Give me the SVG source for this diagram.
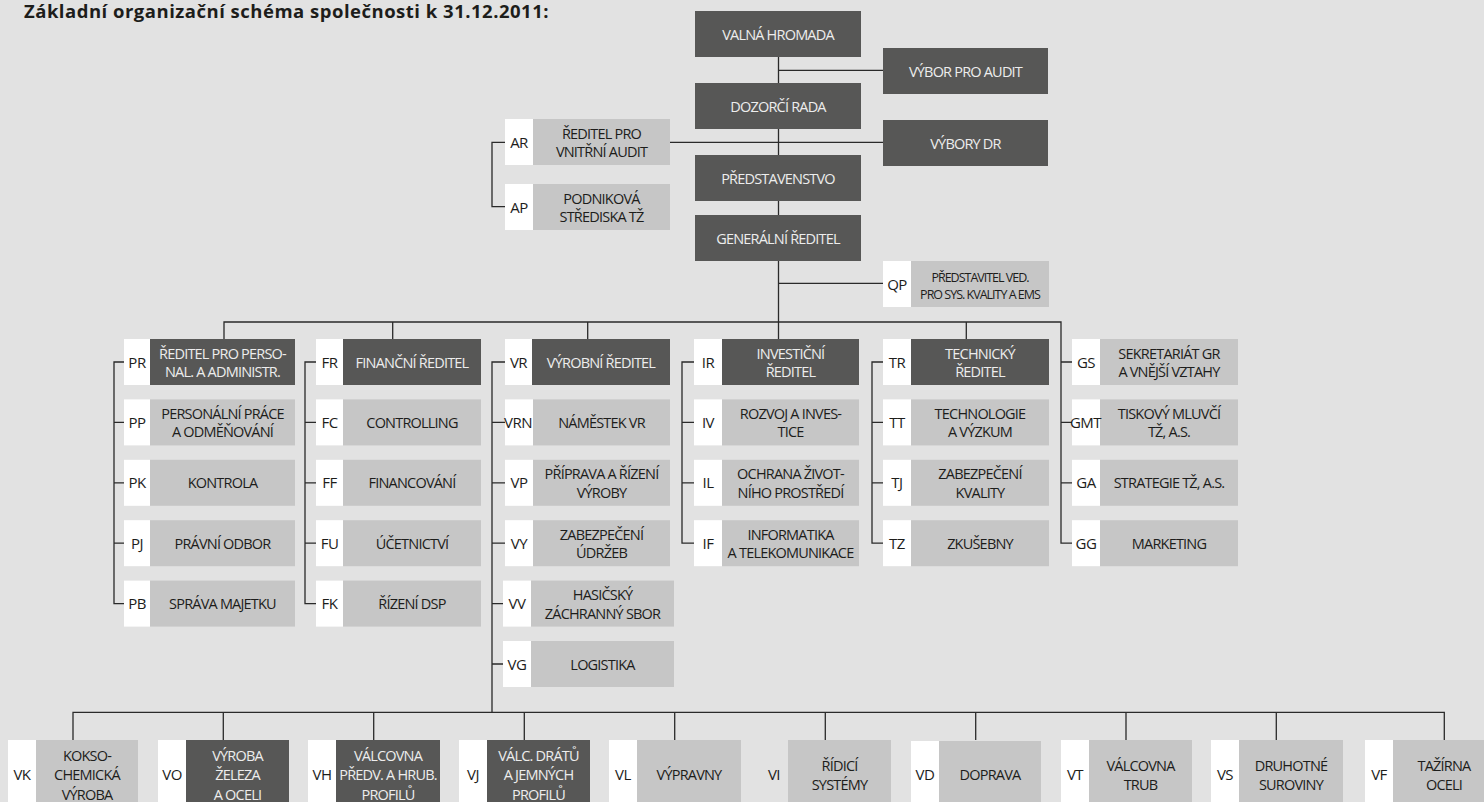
<svg xmlns="http://www.w3.org/2000/svg" width="1484" height="802" viewBox="0 0 1484 802">
<style>
.bg{fill:#e2e2e2}
.dk{fill:#575756}
.lt{fill:#c6c6c6}
.wh{fill:#ffffff}
.t{font-family:"Open Sans","Noto Sans",sans-serif;font-size:14.5px;letter-spacing:-0.8px;text-anchor:middle;fill:#1d1d1b}
.tl{fill:#ededed}
.c{font-size:15px;letter-spacing:-0.5px}
.q{font-size:12.5px;letter-spacing:-1px}
.ttl{font-family:"Open Sans","Noto Sans",sans-serif;font-size:18.5px;letter-spacing:0.5px;font-weight:bold;fill:#1d1d1b}
.ln{fill:none;stroke:#2a2a2a;stroke-width:1.3}
</style>
<rect class="bg" x="0" y="0" width="1484" height="802"/>
<text class="ttl" x="24" y="18">Základní organizační schéma společnosti k 31.12.2011:</text>

<g id="connectors" class="ln">
<path d="M778.5 56V339"/>
<path d="M778.5 70.3H883"/>
<path d="M670 142.3H883"/>
<path d="M778.5 283.3H883"/>
<path d="M505 142.3H492V206.7H505"/>
<path d="M224 339V322H1061V543.2H1072M1061 362H1072M1061 422.4H1072M1061 482.8H1072"/>
<path d="M392.7 322V339M587.7 322V339M966.3 322V339"/>
<path d="M124 362H114V603.6H124M114 422.4H124M114 482.8H124M114 543.2H124"/>
<path d="M316 362H305V603.6H316M305 422.4H316M305 482.8H316M305 543.2H316"/>
<path d="M505 362H492V712.3M492 422.4H505M492 482.8H505M492 543.2H505M492 603.6H503M492 664H503"/>
<path d="M694 362H682V543.2H694M682 422.4H694M682 482.8H694"/>
<path d="M883 362H872V543.2H883M872 422.4H883M872 482.8H883"/>
<path d="M73 740V712.3H1444.3V740M223.3 712.3V740M373.7 712.3V740M524.3 712.3V740M674.7 712.3V740M825.3 712.3V740M975.7 712.3V740M1126 712.3V740M1276.3 712.3V740"/>
</g>

<g id="valna-hromada"><rect class="dk" x="695" y="11" width="166" height="46"/><text class="t tl" x="778" y="39.5">VALNÁ HROMADA</text></g>
<g id="vybor-pro-audit"><rect class="dk" x="883" y="48" width="165" height="46"/><text class="t tl" x="965.5" y="76.5">VÝBOR PRO AUDIT</text></g>
<g id="dozorci-rada"><rect class="dk" x="695" y="83" width="166" height="46"/><text class="t tl" x="778" y="111.5">DOZORČÍ RADA</text></g>
<g id="vybory-dr"><rect class="dk" x="883" y="120" width="165" height="46"/><text class="t tl" x="965.5" y="148.5">VÝBORY DR</text></g>
<g id="predstavenstvo"><rect class="dk" x="695" y="155" width="166" height="46"/><text class="t tl" x="778" y="183.5">PŘEDSTAVENSTVO</text></g>
<g id="generalni-reditel"><rect class="dk" x="695" y="215" width="166" height="46"/><text class="t tl" x="778" y="243.5">GENERÁLNÍ ŘEDITEL</text></g>

<g id="AR"><rect class="wh" x="505" y="119" width="28" height="46"/><rect class="lt" x="533" y="119" width="137" height="46"/><text class="t c" x="519" y="147.5">AR</text><text class="t"><tspan x="601.5" y="138.5">ŘEDITEL PRO</tspan><tspan x="601.5" y="157">VNITŘNÍ AUDIT</tspan></text></g>
<g id="AP"><rect class="wh" x="505" y="184" width="28" height="46"/><rect class="lt" x="533" y="184" width="137" height="46"/><text class="t c" x="519" y="212.5">AP</text><text class="t"><tspan x="601.5" y="203.5">PODNIKOVÁ</tspan><tspan x="601.5" y="222">STŘEDISKA TŽ</tspan></text></g>
<g id="QP"><rect class="wh" x="883" y="261" width="28" height="46"/><rect class="lt" x="911" y="261" width="138" height="46"/><text class="t c" x="897" y="289.5">QP</text><text class="t q"><tspan x="980" y="282">PŘEDSTAVITEL VED.</tspan><tspan x="980" y="299">PRO SYS. KVALITY A EMS</tspan></text></g>

<!-- column 1 -->
<g id="PR"><rect class="wh" x="124" y="339" width="26" height="46"/><rect class="dk" x="150" y="339" width="145" height="46"/><text class="t c" x="137" y="367.5">PR</text><text class="t tl"><tspan x="222.5" y="358.5">ŘEDITEL PRO PERSO-</tspan><tspan x="222.5" y="377">NAL. A ADMINISTR.</tspan></text></g>
<g id="PP"><rect class="wh" x="124" y="399.4" width="26" height="46"/><rect class="lt" x="150" y="399.4" width="145" height="46"/><text class="t c" x="137" y="427.9">PP</text><text class="t"><tspan x="222.5" y="418.9">PERSONÁLNÍ PRÁCE</tspan><tspan x="222.5" y="437.4">A ODMĚŇOVÁNÍ</tspan></text></g>
<g id="PK"><rect class="wh" x="124" y="459.8" width="26" height="46"/><rect class="lt" x="150" y="459.8" width="145" height="46"/><text class="t c" x="137" y="488.3">PK</text><text class="t" x="222.5" y="488.3">KONTROLA</text></g>
<g id="PJ"><rect class="wh" x="124" y="520.2" width="26" height="46"/><rect class="lt" x="150" y="520.2" width="145" height="46"/><text class="t c" x="137" y="548.7">PJ</text><text class="t" x="222.5" y="548.7">PRÁVNÍ ODBOR</text></g>
<g id="PB"><rect class="wh" x="124" y="580.6" width="26" height="46"/><rect class="lt" x="150" y="580.6" width="145" height="46"/><text class="t c" x="137" y="609.1">PB</text><text class="t" x="222.5" y="609.1">SPRÁVA MAJETKU</text></g>

<!-- column 2 -->
<g id="FR"><rect class="wh" x="316" y="339" width="27" height="46"/><rect class="dk" x="343" y="339" width="138" height="46"/><text class="t c" x="329.5" y="367.5">FR</text><text class="t tl" x="412" y="367.5">FINANČNÍ ŘEDITEL</text></g>
<g id="FC"><rect class="wh" x="316" y="399.4" width="27" height="46"/><rect class="lt" x="343" y="399.4" width="138" height="46"/><text class="t c" x="329.5" y="427.9">FC</text><text class="t" x="412" y="427.9">CONTROLLING</text></g>
<g id="FF"><rect class="wh" x="316" y="459.8" width="27" height="46"/><rect class="lt" x="343" y="459.8" width="138" height="46"/><text class="t c" x="329.5" y="488.3">FF</text><text class="t" x="412" y="488.3">FINANCOVÁNÍ</text></g>
<g id="FU"><rect class="wh" x="316" y="520.2" width="27" height="46"/><rect class="lt" x="343" y="520.2" width="138" height="46"/><text class="t c" x="329.5" y="548.7">FU</text><text class="t" x="412" y="548.7">ÚČETNICTVÍ</text></g>
<g id="FK"><rect class="wh" x="316" y="580.6" width="27" height="46"/><rect class="lt" x="343" y="580.6" width="138" height="46"/><text class="t c" x="329.5" y="609.1">FK</text><text class="t" x="412" y="609.1">ŘÍZENÍ DSP</text></g>

<!-- column 3 -->
<g id="VR"><rect class="wh" x="505" y="339" width="27" height="46"/><rect class="dk" x="532" y="339" width="138" height="46"/><text class="t c" x="518.5" y="367.5">VR</text><text class="t tl" x="601" y="367.5">VÝROBNÍ ŘEDITEL</text></g>
<g id="VRN"><rect class="wh" x="505" y="399.4" width="28" height="46"/><rect class="lt" x="533" y="399.4" width="137" height="46"/><text class="t c" x="518" y="427.9">VRN</text><text class="t" x="601.5" y="427.9">NÁMĚSTEK VR</text></g>
<g id="VP"><rect class="wh" x="505" y="459.8" width="28" height="46"/><rect class="lt" x="533" y="459.8" width="137" height="46"/><text class="t c" x="519" y="488.3">VP</text><text class="t"><tspan x="601.5" y="479.3">PŘÍPRAVA A ŘÍZENÍ</tspan><tspan x="601.5" y="497.8">VÝROBY</tspan></text></g>
<g id="VY"><rect class="wh" x="505" y="520.2" width="28" height="46"/><rect class="lt" x="533" y="520.2" width="137" height="46"/><text class="t c" x="519" y="548.7">VY</text><text class="t"><tspan x="601.5" y="539.7">ZABEZPEČENÍ</tspan><tspan x="601.5" y="558.2">ÚDRŽEB</tspan></text></g>
<g id="VV"><rect class="wh" x="503" y="580.6" width="28" height="46"/><rect class="lt" x="531" y="580.6" width="143" height="46"/><text class="t c" x="517" y="609.1">VV</text><text class="t"><tspan x="602.5" y="600.1">HASIČSKÝ</tspan><tspan x="602.5" y="618.6">ZÁCHRANNÝ SBOR</tspan></text></g>
<g id="VG"><rect class="wh" x="503" y="641" width="28" height="46"/><rect class="lt" x="531" y="641" width="143" height="46"/><text class="t c" x="517" y="669.5">VG</text><text class="t" x="602.5" y="669.5">LOGISTIKA</text></g>

<!-- column 4 -->
<g id="IR"><rect class="wh" x="694" y="339" width="28" height="46"/><rect class="dk" x="722" y="339" width="137" height="46"/><text class="t c" x="708" y="367.5">IR</text><text class="t tl"><tspan x="790.5" y="358.5">INVESTIČNÍ</tspan><tspan x="790.5" y="377">ŘEDITEL</tspan></text></g>
<g id="IV"><rect class="wh" x="694" y="399.4" width="28" height="46"/><rect class="lt" x="722" y="399.4" width="137" height="46"/><text class="t c" x="708" y="427.9">IV</text><text class="t"><tspan x="790.5" y="418.9">ROZVOJ A INVES-</tspan><tspan x="790.5" y="437.4">TICE</tspan></text></g>
<g id="IL"><rect class="wh" x="694" y="459.8" width="28" height="46"/><rect class="lt" x="722" y="459.8" width="137" height="46"/><text class="t c" x="708" y="488.3">IL</text><text class="t"><tspan x="790.5" y="479.3">OCHRANA ŽIVOT-</tspan><tspan x="790.5" y="497.8">NÍHO PROSTŘEDÍ</tspan></text></g>
<g id="IF"><rect class="wh" x="694" y="520.2" width="28" height="46"/><rect class="lt" x="722" y="520.2" width="137" height="46"/><text class="t c" x="708" y="548.7">IF</text><text class="t"><tspan x="790.5" y="539.7">INFORMATIKA</tspan><tspan x="790.5" y="558.2">A TELEKOMUNIKACE</tspan></text></g>

<!-- column 5 -->
<g id="TR"><rect class="wh" x="883" y="339" width="28" height="46"/><rect class="dk" x="911" y="339" width="138" height="46"/><text class="t c" x="897" y="367.5">TR</text><text class="t tl"><tspan x="980" y="358.5">TECHNICKÝ</tspan><tspan x="980" y="377">ŘEDITEL</tspan></text></g>
<g id="TT"><rect class="wh" x="883" y="399.4" width="28" height="46"/><rect class="lt" x="911" y="399.4" width="138" height="46"/><text class="t c" x="897" y="427.9">TT</text><text class="t"><tspan x="980" y="418.9">TECHNOLOGIE</tspan><tspan x="980" y="437.4">A VÝZKUM</tspan></text></g>
<g id="TJ"><rect class="wh" x="883" y="459.8" width="28" height="46"/><rect class="lt" x="911" y="459.8" width="138" height="46"/><text class="t c" x="897" y="488.3">TJ</text><text class="t"><tspan x="980" y="479.3">ZABEZPEČENÍ</tspan><tspan x="980" y="497.8">KVALITY</tspan></text></g>
<g id="TZ"><rect class="wh" x="883" y="520.2" width="28" height="46"/><rect class="lt" x="911" y="520.2" width="138" height="46"/><text class="t c" x="897" y="548.7">TZ</text><text class="t" x="980" y="548.7">ZKUŠEBNY</text></g>

<!-- column 6 -->
<g id="GS"><rect class="wh" x="1072" y="339" width="28" height="46"/><rect class="lt" x="1100" y="339" width="138" height="46"/><text class="t c" x="1086" y="367.5">GS</text><text class="t"><tspan x="1169" y="358.5">SEKRETARIÁT GR</tspan><tspan x="1169" y="377">A VNĚJŠÍ VZTAHY</tspan></text></g>
<g id="GMT"><rect class="wh" x="1072" y="399.4" width="28" height="46"/><rect class="lt" x="1100" y="399.4" width="138" height="46"/><text class="t c" x="1085.5" y="427.9">GMT</text><text class="t"><tspan x="1169" y="418.9">TISKOVÝ MLUVČÍ</tspan><tspan x="1169" y="437.4">TŽ, A.S.</tspan></text></g>
<g id="GA"><rect class="wh" x="1072" y="459.8" width="28" height="46"/><rect class="lt" x="1100" y="459.8" width="138" height="46"/><text class="t c" x="1086" y="488.3">GA</text><text class="t" x="1169" y="488.3">STRATEGIE TŽ, A.S.</text></g>
<g id="GG"><rect class="wh" x="1072" y="520.2" width="28" height="46"/><rect class="lt" x="1100" y="520.2" width="138" height="46"/><text class="t c" x="1086" y="548.7">GG</text><text class="t" x="1169" y="548.7">MARKETING</text></g>

<!-- bottom row -->
<g id="VK"><rect class="wh" x="8" y="740" width="28" height="70"/><rect class="lt" x="36" y="740" width="102" height="70"/><text class="t c" x="22" y="780">VK</text><text class="t"><tspan x="87" y="760.7">KOKSO-</tspan><tspan x="87" y="780.3">CHEMICKÁ</tspan><tspan x="87" y="800">VÝROBA</tspan></text></g>
<g id="VO"><rect class="wh" x="158" y="740" width="28" height="70"/><rect class="dk" x="186" y="740" width="103" height="70"/><text class="t c" x="172" y="780">VO</text><text class="t tl"><tspan x="237.5" y="760.7">VÝROBA</tspan><tspan x="237.5" y="780.3">ŽELEZA</tspan><tspan x="237.5" y="800">A OCELI</tspan></text></g>
<g id="VH"><rect class="wh" x="308" y="740" width="28" height="70"/><rect class="dk" x="336" y="740" width="104" height="70"/><text class="t c" x="322" y="780">VH</text><text class="t tl"><tspan x="388" y="760.7">VÁLCOVNA</tspan><tspan x="388" y="780.3">PŘEDV. A HRUB.</tspan><tspan x="388" y="800">PROFILŮ</tspan></text></g>
<g id="VJ"><rect class="wh" x="459" y="740" width="28" height="70"/><rect class="dk" x="487" y="740" width="103" height="70"/><text class="t c" x="473" y="780">VJ</text><text class="t tl"><tspan x="538.5" y="760.7">VÁLC. DRÁTŮ</tspan><tspan x="538.5" y="780.3">A JEMNÝCH</tspan><tspan x="538.5" y="800">PROFILŮ</tspan></text></g>
<g id="VL"><rect class="wh" x="609" y="740" width="28" height="70"/><rect class="lt" x="637" y="740" width="104" height="70"/><text class="t c" x="623" y="780">VL</text><text class="t" x="689" y="780">VÝPRAVNY</text></g>
<g id="VI"><rect class="lt" x="788" y="740" width="103" height="70"/><text class="t c" x="774" y="780">VI</text><text class="t"><tspan x="839.5" y="770.7">ŘÍDICÍ</tspan><tspan x="839.5" y="790">SYSTÉMY</tspan></text></g>
<g id="VD"><rect class="wh" x="911" y="741" width="28" height="70"/><rect class="lt" x="939" y="741" width="102" height="70"/><text class="t c" x="925" y="780">VD</text><text class="t" x="990" y="780">DOPRAVA</text></g>
<g id="VT"><rect class="wh" x="1061" y="740" width="28" height="70"/><rect class="lt" x="1089" y="740" width="103" height="70"/><text class="t c" x="1075" y="780">VT</text><text class="t"><tspan x="1140.5" y="770.7">VÁLCOVNA</tspan><tspan x="1140.5" y="790">TRUB</tspan></text></g>
<g id="VS"><rect class="wh" x="1211" y="740" width="28" height="70"/><rect class="lt" x="1239" y="740" width="104" height="70"/><text class="t c" x="1225" y="780">VS</text><text class="t"><tspan x="1291" y="770.7">DRUHOTNÉ</tspan><tspan x="1291" y="790">SUROVINY</tspan></text></g>
<g id="VF"><rect class="wh" x="1365" y="740" width="28" height="70"/><rect class="lt" x="1393" y="740" width="102" height="70"/><text class="t c" x="1379" y="780">VF</text><text class="t"><tspan x="1444" y="770.7">TAŽÍRNA</tspan><tspan x="1444" y="790">OCELI</tspan></text></g>
</svg>
